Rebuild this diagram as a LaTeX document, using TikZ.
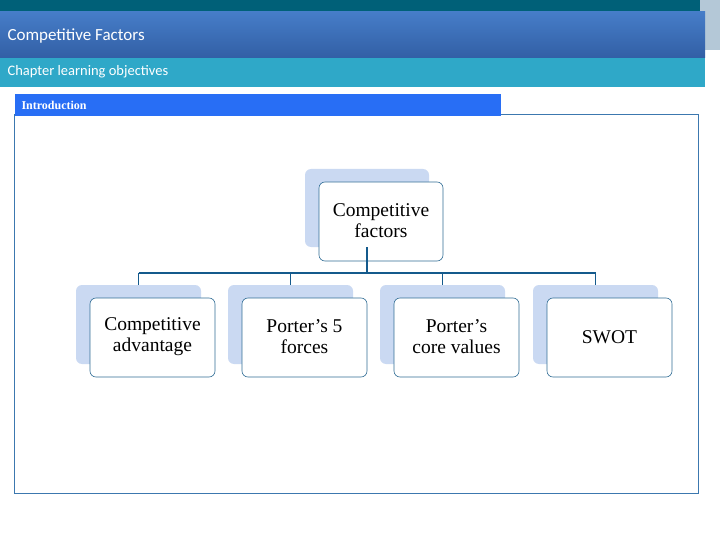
\documentclass[tikz,border=0pt]{standalone}
\usepackage{fontspec}
\setmainfont{Liberation Serif}
\newfontfamily\titlefont{Carlito}
\definecolor{cTop}{RGB}{0,96,120}
\definecolor{cSide}{RGB}{180,200,215}
\definecolor{cBlA}{RGB}{70,125,200}
\definecolor{cBlB}{RGB}{50,95,165}
\definecolor{cCyan}{RGB}{47,168,200}
\definecolor{cFrame}{RGB}{60,120,175}
\definecolor{cIntro}{RGB}{40,110,245}
\definecolor{cBox}{RGB}{50,110,150}
\definecolor{cConn}{RGB}{20,90,140}
\definecolor{cShad}{RGB}{202,217,242}
\begin{document}
\begin{tikzpicture}[x=1pt,y=-1pt,
  shad/.style={fill=cShad, draw=none, rounded corners=6pt},
  mainbox/.style={fill=white, draw=cBox, rounded corners=6pt, line width=0.6pt},
  lbl/.style={align=center, font=\fontsize{19.5}{21}\selectfont, text=black},
  conn/.style={draw=cConn, line width=1.5pt}]
\useasboundingbox (0,0) rectangle (720,540);
\fill[white] (0,0) rectangle (720,540);
\fill[cTop] (0,0) rectangle (705,12);
\fill[cSide] (700,0) rectangle (720,50);
\shade[top color=cBlA, bottom color=cBlB] (0,12) rectangle (705,58);
\fill[cCyan] (0,58) rectangle (705,87);
\node[anchor=west, text=white, font=\titlefont\fontsize{17}{17}\selectfont] (t1) at (4,36) {Competitive Factors};
\node[anchor=west, text=white, font=\titlefont\fontsize{14.5}{14.5}\selectfont] (t2) at (4,72) {Chapter learning objectives};
\draw[cFrame, line width=0.8pt] (14,114) rectangle (698,493);
\fill[cIntro] (15,94) rectangle (501,116);
\node[anchor=west, text=white, font=\fontsize{12}{12}\selectfont\bfseries] (t3) at (18,105) {Introduction};
% top
\fill[shad] (305,169) rectangle (429,247);
\coordinate (ts) at (367,247);
\draw[mainbox] (319,182) rectangle (443,261);
\node[lbl] (top) at (381,221) {Competitive\\factors};
\coordinate (bus) at (367,273);
\foreach \i/\x/\t in {1/90/{Competitive\\advantage},2/242/{Porter’s 5\\forces},3/394/{Porter’s\\core values},4/547/{SWOT}}{
  \fill[shad] (\x-14,285) rectangle (\x+111,364);
  \coordinate (s\i) at (\x+48.5,285);
  \coordinate (b\i) at (\x+48.5,273);
  \draw[mainbox] (\x,298) rectangle (\x+125,377);
  \node[lbl] (c\i) at (\x+62.5,337) {\t};
}
\draw[conn] (ts) -- (bus);
\draw[conn] (b1) -- (b4);
\foreach \i in {1,...,4} \draw[conn] (b\i) -- (s\i);
\end{tikzpicture}
\end{document}
